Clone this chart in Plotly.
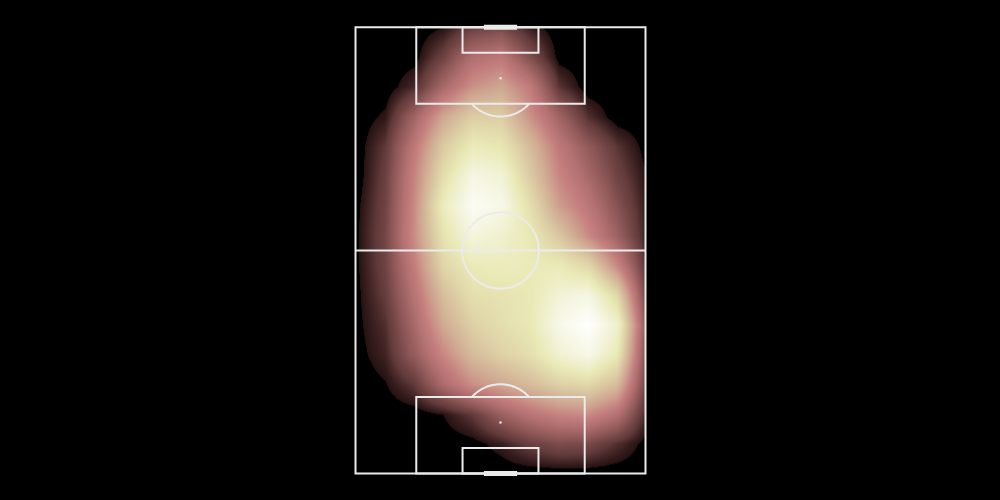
import plotly.graph_objects as go
import numpy as np

# ---------------- data ----------------
# Pitch dimensions (metres) as drawn in the reference
PITCH_WIDTH = 68.0
PITCH_LENGTH = 105.0
BOX_WIDTH = 39.5
BOX_DEPTH = 18.0
SIX_WIDTH = 17.8
SIX_DEPTH = 6.0
SPOT_DIST = 12.0
CIRCLE_R = 9.0
GOAL_WIDTH = 7.8

# Density (normalised 0..1) sampled at grid nodes; rows run from the top goal line down
grid_x = [0, 6.8, 13.6, 20.4, 27.2, 34.0, 40.8, 47.6, 54.4, 61.2, 68.0]
grid_y = [0, 7, 14, 21, 28, 35, 42, 49, 56, 63, 70, 77, 84, 91, 98, 105]
density = [
    [0.00, 0.00, 0.00, 0.03, 0.12, 0.15, 0.05, 0.00, 0.00, 0.00, 0.00],
    [0.00, 0.00, 0.01, 0.13, 0.30, 0.35, 0.17, 0.01, 0.00, 0.00, 0.00],
    [0.00, 0.00, 0.07, 0.27, 0.43, 0.49, 0.36, 0.09, 0.00, 0.00, 0.00],
    [0.00, 0.04, 0.25, 0.49, 0.63, 0.63, 0.43, 0.25, 0.08, 0.00, 0.00],
    [0.00, 0.10, 0.35, 0.62, 0.77, 0.74, 0.56, 0.35, 0.21, 0.09, 0.01],
    [0.00, 0.12, 0.39, 0.70, 0.90, 0.86, 0.62, 0.40, 0.27, 0.13, 0.03],
    [0.015, 0.13, 0.41, 0.78, 0.96, 0.92, 0.70, 0.46, 0.34, 0.18, 0.04],
    [0.02, 0.14, 0.42, 0.72, 0.88, 0.83, 0.75, 0.60, 0.41, 0.24, 0.05],
    [0.02, 0.13, 0.37, 0.66, 0.76, 0.78, 0.76, 0.76, 0.67, 0.40, 0.08],
    [0.015, 0.11, 0.32, 0.57, 0.70, 0.72, 0.75, 0.86, 0.90, 0.67, 0.12],
    [0.015, 0.08, 0.27, 0.50, 0.64, 0.70, 0.75, 0.92, 1.00, 0.83, 0.18],
    [0.01, 0.06, 0.22, 0.40, 0.56, 0.64, 0.70, 0.84, 0.92, 0.75, 0.15],
    [0.00, 0.025, 0.10, 0.28, 0.42, 0.49, 0.56, 0.64, 0.67, 0.56, 0.12],
    [0.00, 0.00, 0.00, 0.03, 0.10, 0.23, 0.33, 0.39, 0.41, 0.31, 0.06],
    [0.00, 0.00, 0.00, 0.00, 0.01, 0.05, 0.12, 0.16, 0.15, 0.08, 0.01],
    [0.00, 0.00, 0.00, 0.00, 0.00, 0.00, 0.00, 0.00, 0.00, 0.00, 0.00],
]

# ---------------- style ----------------
LINE_COLOR = "rgb(235,235,235)"
LINE_W = 2
colorscale = [
    [0.000, "rgb(0,0,0)"],
    [0.029, "rgb(0,0,0)"],
    [0.030, "rgb(38,18,18)"],
    [0.100, "rgb(98,58,58)"],
    [0.200, "rgb(143,88,88)"],
    [0.300, "rgb(178,112,112)"],
    [0.375, "rgb(196,126,126)"],
    [0.450, "rgb(204,154,139)"],
    [0.500, "rgb(208,171,147)"],
    [0.600, "rgb(218,198,161)"],
    [0.650, "rgb(223,211,168)"],
    [0.750, "rgb(233,233,181)"],
    [0.875, "rgb(244,244,221)"],
    [1.000, "rgb(255,255,255)"],
]

W, H = 1000, 500
# pixel placement of the pitch
PX_LEFT, PX_RIGHT = 355.5, 645.5
PX_TOP, PX_BOTTOM = 27.3, 473.5
sx = (PX_RIGHT - PX_LEFT) / PITCH_WIDTH
sy = (PX_BOTTOM - PX_TOP) / PITCH_LENGTH
x_range = [-PX_LEFT / sx, PITCH_WIDTH + (W - PX_RIGHT) / sx]
y_range = [PITCH_LENGTH + (H - PX_BOTTOM) / sy, -PX_TOP / sy]  # reversed

fig = go.Figure()
fig.add_trace(go.Heatmap(
    x=grid_x, y=grid_y, z=density,
    zmin=0, zmax=1, zsmooth="best", colorscale=colorscale,
    showscale=False, hoverinfo="skip",
))

shapes = []
# black surround so the density stays inside the pitch
for x0, x1, y0, y1 in [
    (x_range[0], 0, y_range[1], y_range[0]),
    (PITCH_WIDTH, x_range[1], y_range[1], y_range[0]),
    (0, PITCH_WIDTH, y_range[1], 0),
    (0, PITCH_WIDTH, PITCH_LENGTH, y_range[0]),
]:
    shapes.append(dict(type="rect", xref="x", yref="y", x0=x0, x1=x1, y0=y0, y1=y1,
                       fillcolor="black", line=dict(width=0), layer="above"))

def line(x0, y0, x1, y1, w=LINE_W):
    shapes.append(dict(type="line", xref="x", yref="y", x0=x0, y0=y0, x1=x1, y1=y1,
                       line=dict(color=LINE_COLOR, width=w), layer="above"))

def rect(x0, y0, x1, y1):
    shapes.append(dict(type="rect", xref="x", yref="y", x0=x0, y0=y0, x1=x1, y1=y1,
                       line=dict(color=LINE_COLOR, width=LINE_W), fillcolor="rgba(0,0,0,0)",
                       layer="above"))

cx = PITCH_WIDTH / 2
rect(0, 0, PITCH_WIDTH, PITCH_LENGTH)
line(0, PITCH_LENGTH / 2, PITCH_WIDTH, PITCH_LENGTH / 2)
shapes.append(dict(type="circle", xref="x", yref="y",
                   x0=cx - CIRCLE_R, x1=cx + CIRCLE_R,
                   y0=PITCH_LENGTH / 2 - CIRCLE_R, y1=PITCH_LENGTH / 2 + CIRCLE_R,
                   line=dict(color=LINE_COLOR, width=LINE_W), layer="above"))

for goal_y, d in [(0, 1), (PITCH_LENGTH, -1)]:
    rect(cx - BOX_WIDTH / 2, goal_y, cx + BOX_WIDTH / 2, goal_y + d * BOX_DEPTH)
    rect(cx - SIX_WIDTH / 2, goal_y, cx + SIX_WIDTH / 2, goal_y + d * SIX_DEPTH)
    line(cx - GOAL_WIDTH / 2, goal_y, cx + GOAL_WIDTH / 2, goal_y, w=5)
    spot_y = goal_y + d * SPOT_DIST
    shapes.append(dict(type="circle", xref="x", yref="y",
                       x0=cx - 0.3, x1=cx + 0.3, y0=spot_y - 0.3, y1=spot_y + 0.3,
                       fillcolor=LINE_COLOR, line=dict(color=LINE_COLOR, width=0), layer="above"))
    half = np.degrees(np.arccos((BOX_DEPTH - SPOT_DIST) / CIRCLE_R))
    ang = np.radians(np.linspace(-half, half, 40))
    ax = cx + CIRCLE_R * np.sin(ang)
    ay = spot_y + d * CIRCLE_R * np.cos(ang)
    path = "M " + " L ".join(f"{a},{b}" for a, b in zip(ax, ay))
    shapes.append(dict(type="path", xref="x", yref="y", path=path,
                       line=dict(color=LINE_COLOR, width=LINE_W), layer="above"))

fig.update_layout(
    width=W, height=H, margin=dict(l=0, r=0, t=0, b=0),
    paper_bgcolor="black", plot_bgcolor="black",
    xaxis=dict(range=x_range, visible=False, showgrid=False, zeroline=False, fixedrange=True),
    yaxis=dict(range=y_range, visible=False, showgrid=False, zeroline=False, fixedrange=True),
    shapes=shapes, showlegend=False,
)

fig.write_html("out.html")
